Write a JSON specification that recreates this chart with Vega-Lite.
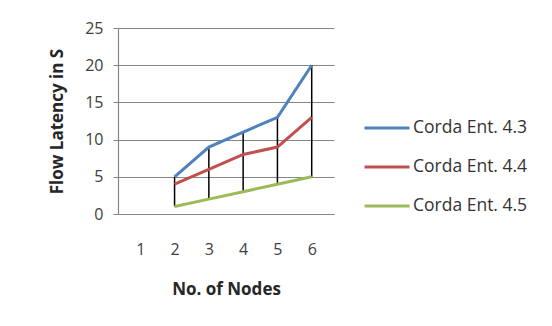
{
  "$schema": "https://vega.github.io/schema/vega-lite/v6.json",
  "width": 216,
  "height": 186,
  "autosize": {"type": "none"},
  "padding": {"left": 118, "top": 28, "right": 218, "bottom": 112},
  "background": "white",
  "config": {
    "view": {"stroke": null},
    "font": "Open Sans",
    "axis": {"labelFont": "Open Sans", "titleFont": "Open Sans", "labelColor": "#404040", "titleColor": "#262626"},
    "axisY": {
      "title": "Flow Latency in S",
      "titleFontSize": 17,
      "titleFontWeight": "bold",
      "titlePadding": 18,
      "values": [0, 5, 10, 15, 20, 25],
      "labelFontSize": 16,
      "labelPadding": 10,
      "tickSize": 5,
      "tickColor": "#868686",
      "domain": true,
      "domainColor": "#868686",
      "domainWidth": 1.2,
      "grid": true,
      "gridColor": "#868686",
      "gridWidth": 1.2,
      "gridOpacity": 1
    }
  },
  "data": {
    "values": [
      {"nodes": 2, "version": "Corda Ent. 4.3", "latency": 5},
      {"nodes": 3, "version": "Corda Ent. 4.3", "latency": 9},
      {"nodes": 4, "version": "Corda Ent. 4.3", "latency": 11},
      {"nodes": 5, "version": "Corda Ent. 4.3", "latency": 13},
      {"nodes": 6, "version": "Corda Ent. 4.3", "latency": 20},
      {"nodes": 2, "version": "Corda Ent. 4.4", "latency": 4},
      {"nodes": 3, "version": "Corda Ent. 4.4", "latency": 6},
      {"nodes": 4, "version": "Corda Ent. 4.4", "latency": 8},
      {"nodes": 5, "version": "Corda Ent. 4.4", "latency": 9},
      {"nodes": 6, "version": "Corda Ent. 4.4", "latency": 13},
      {"nodes": 2, "version": "Corda Ent. 4.5", "latency": 1},
      {"nodes": 3, "version": "Corda Ent. 4.5", "latency": 2},
      {"nodes": 4, "version": "Corda Ent. 4.5", "latency": 3},
      {"nodes": 5, "version": "Corda Ent. 4.5", "latency": 4},
      {"nodes": 6, "version": "Corda Ent. 4.5", "latency": 5}
    ]
  },
  "encoding": {
    "x": {
      "field": "nodes",
      "type": "ordinal",
      "scale": {"type": "point", "domain": [1, 2, 3, 4, 5, 6], "padding": 0.65},
      "axis": {
        "title": "No. of Nodes",
        "titleFontSize": 17,
        "titleFontWeight": "bold",
        "titlePadding": 24,
        "labelAngle": 0,
        "labelFontSize": 16,
        "labelPadding": 27,
        "ticks": false,
        "domain": true,
        "domainColor": "#868686",
        "domainWidth": 1.2
      }
    }
  },
  "layer": [
    {
      "mark": {"type": "rule", "color": "black", "strokeWidth": 1.5},
      "encoding": {
        "y": {
          "aggregate": "min",
          "field": "latency",
          "type": "quantitative",
          "scale": {"domain": [0, 25]},
          "title": "Flow Latency in S"
        },
        "y2": {"aggregate": "max", "field": "latency"}
      }
    },
    {
      "mark": {"type": "line", "strokeWidth": 3},
      "encoding": {
        "y": {
          "field": "latency",
          "type": "quantitative",
          "scale": {"domain": [0, 25]},
          "title": "Flow Latency in S"
        },
        "color": {
          "field": "version",
          "type": "nominal",
          "scale": {"range": ["#4F81BD", "#C0504D", "#9BBB59"]},
          "legend": {
            "title": null,
            "orient": "none",
            "legendX": 245,
            "legendY": 76,
            "symbolType": "stroke",
            "symbolSize": 2025,
            "symbolStrokeWidth": 3,
            "labelFontSize": 17.5,
            "labelFont": "Open Sans",
            "labelColor": "#333333",
            "labelOffset": 2,
            "rowPadding": 6
          }
        }
      }
    }
  ]
}
